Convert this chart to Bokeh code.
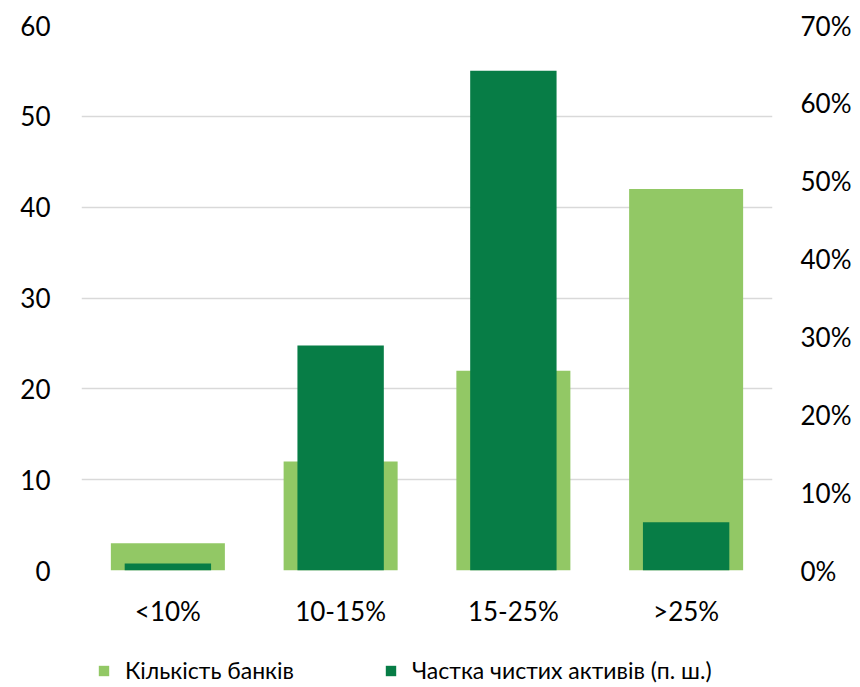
from bokeh.plotting import figure
from bokeh.models import (FactorRange, Range1d, LinearAxis, Legend, LegendItem,
                          PrintfTickFormatter, FixedTicker, ColumnDataSource)
from bokeh.layouts import column
from bokeh.embed import file_html
from bokeh.resources import INLINE

categories = ["<10%", "10-15%", "15-25%", ">25%"]
bank_count = [3, 12, 22, 42]
asset_share = [0.9, 28.9, 64.2, 6.2]  # % of net assets (right axis)

left_ticks = [0, 10, 20, 30, 40, 50, 60]
right_ticks = [0, 10, 20, 30, 40, 50, 60, 70]

series_names = ["Кількість банків", "Частка чистих активів (п. ш.)"]

FONT = "Lato"
LIGHT = "#92C865"
DARK = "#077D46"

src = ColumnDataSource(dict(cat=categories, count=bank_count, share=asset_share))

fig = figure(x_range=FactorRange(*categories), y_range=Range1d(0, 60),
             frame_width=691, frame_height=545,
             min_border_left=81, min_border_right=88, min_border_top=25, min_border_bottom=62,
             output_backend="svg", toolbar_location=None)
fig.extra_y_ranges = {"right": Range1d(0, 70)}

r1 = fig.vbar(x="cat", top="count", width=0.66, source=src, color=LIGHT, line_color=None)
r2 = fig.vbar(x="cat", top="share", width=0.5, source=src, color=DARK, line_color=None,
              y_range_name="right")

fig.outline_line_color = None
fig.xgrid.grid_line_color = None
fig.ygrid.grid_line_color = "#d9d9d9"
fig.ygrid.grid_line_width = 1.5
fig.ygrid.ticker = FixedTicker(ticks=left_ticks)


def style_axis(ax, standoff):
    ax.axis_line_color = None
    ax.major_tick_line_color = None
    ax.minor_tick_line_color = None
    ax.major_tick_out = 0
    ax.major_tick_in = 0
    ax.minor_tick_out = 0
    ax.major_label_text_font = FONT
    ax.major_label_text_font_size = "26px"
    ax.major_label_text_color = "#000000"
    ax.major_label_standoff = standoff


fig.yaxis[0].ticker = FixedTicker(ticks=left_ticks)
style_axis(fig.yaxis[0], 31)
style_axis(fig.xaxis[0], 24)

ax_r = LinearAxis(y_range_name="right", ticker=FixedTicker(ticks=right_ticks),
                  formatter=PrintfTickFormatter(format="%d%%"))
style_axis(ax_r, 28)
fig.add_layout(ax_r, "right")

# legend row (separate strip below the chart); swatch renderers are zero-height
leg = figure(width=860, height=55, x_range=Range1d(0, 1), y_range=Range1d(0, 1),
             x_axis_location=None, y_axis_location=None,
             min_border=0, output_backend="svg", toolbar_location=None)
leg.outline_line_color = None
leg.grid.visible = False
swatch = ColumnDataSource(dict(x=[0], top=[0]))
g1 = leg.vbar(x="x", top="top", width=0.01, source=swatch, color=LIGHT, line_color=None)
g2 = leg.vbar(x="x", top="top", width=0.01, source=swatch, color=DARK, line_color=None)

legend = Legend(items=[LegendItem(label=series_names[0], renderers=[g1]),
                       LegendItem(label=series_names[1], renderers=[g2])],
                orientation="horizontal", location=(16, 3),
                label_text_font=FONT, label_text_font_size="23px", label_text_color="#000000",
                glyph_width=13, glyph_height=13, label_standoff=15, spacing=90,
                border_line_color=None, background_fill_alpha=0, padding=0, margin=0)
leg.add_layout(legend, "center")

p = column(fig, leg, spacing=0)

open("out.html", "w").write(file_html(p, INLINE))
